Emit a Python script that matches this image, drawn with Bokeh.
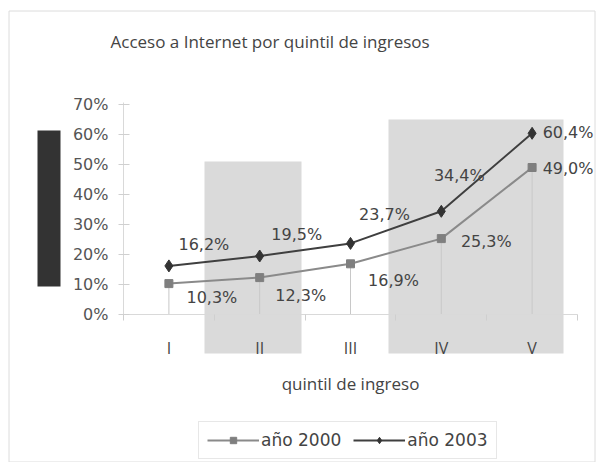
from bokeh.plotting import figure
from bokeh.core.properties import value
from bokeh.models import (Range1d, FixedTicker, PrintfTickFormatter,
                          ColumnDataSource, Legend, LegendItem, LabelSet, Label)
from bokeh.embed import file_html
from bokeh.resources import INLINE

# ---- data ----
categories = ["I", "II", "III", "IV", "V"]
y2000 = [10.3, 12.3, 16.9, 25.3, 49.0]
y2003 = [16.2, 19.5, 23.7, 34.4, 60.4]
y_ticks = [0, 10, 20, 30, 40, 50, 60, 70]
series_names = ["año 2000", "año 2003"]
title_text = "Acceso a Internet por quintil de ingresos"
x_title = "quintil de ingreso"

# ---- label offsets (style, screen px; y positive = up) ----
dx2000 = [43, 41, 43, 45, 36]
dy2000 = [-14, -18, -17, -3, -1]
dx2003 = [35, 37, 34, 18, 36]
dy2003 = [21, 22, 29, 36, 1]

FONT = "Open Sans"
NUMFONT = "DejaVu Sans"

# ---- layout (pixels in the picture) ----
W, H = 596, 462
PLOT_L, PLOT_R = 123, 577      # x of category range 0..5
ZERO_Y = 314                    # y of 0 %
PX_PER_PCT = 3.0
unit = (PLOT_R - PLOT_L) / len(categories)

xs = [i + 0.5 for i in range(len(categories))]

def fmt(v):
    return ("%.1f%%" % v).replace(".", ",")

def px_x(px):
    return (px - PLOT_L) / unit

def px_y(py):
    return (ZERO_Y - py) / PX_PER_PCT

src2000 = ColumnDataSource(dict(x=xs, y=y2000, zero=[0] * len(xs),
                                lab=[fmt(v) for v in y2000], dx=dx2000, dy=dy2000))
src2003 = ColumnDataSource(dict(x=xs, y=y2003,
                                lab=[fmt(v) for v in y2003], dx=dx2003, dy=dy2003))

p = figure(width=W, height=H,
           x_range=Range1d(px_x(0), px_x(W)), y_range=Range1d(px_y(H), px_y(0)),
           output_backend="svg", toolbar_location=None,
           min_border_left=0, min_border_right=0, min_border_top=0,
           min_border_bottom=0)
p.title.visible = False
p.outline_line_color = None
p.xgrid.grid_line_color = None
p.ygrid.grid_line_color = None

# chart-area border
p.quad(left=[px_x(8.5)], right=[px_x(594.5)], top=[px_y(10.5)], bottom=[px_y(461.5)],
       fill_color=None, line_color="#dcdcdc", line_width=1)

# shaded bands and dark box (decoration, pixel placed)
p.quad(left=[px_x(204), px_x(388)], right=[px_x(301), px_x(563)],
       top=[px_y(161), px_y(119)], bottom=[px_y(353), px_y(353)],
       fill_color="#dadada", line_color=None)
p.quad(left=[px_x(37)], right=[px_x(60)], top=[px_y(130)], bottom=[px_y(286)],
       fill_color="#333333", line_color=None)

# drop lines
p.segment(x0="x", y0="zero", x1="x", y1="y", source=src2000,
          line_color="#c8c8c8", line_width=1)

l0 = p.line("x", "y", source=src2000, line_color="#8a8a8a", line_width=2)
m0 = p.scatter("x", "y", source=src2000, marker="square", size=8,
               fill_color="#7f7f7f", line_color="#7f7f7f")
l1 = p.line("x", "y", source=src2003, line_color="#3f3f3f", line_width=2)
m1 = p.scatter("x", "y", source=src2003, marker="diamond", size=12,
               fill_color="#333333", line_color="#333333")

for src in (src2000, src2003):
    p.add_layout(LabelSet(x="x", y="y", text="lab", source=src,
                          x_offset="dx", y_offset="dy",
                          text_align="center", text_baseline="middle",
                          text_font=value(NUMFONT), text_font_size=value("16px"),
                          text_color="#444444"))

# title
p.add_layout(Label(x=px_x(110), y=px_y(41), text=title_text,
                   text_align="left", text_baseline="middle",
                   text_font=FONT, text_font_size="17px", text_color="#444444"))

# axes (placed inside the frame)
xa = p.xaxis[0]
xa.fixed_location = 0
xa.bounds = (0, len(categories))
xa.ticker = FixedTicker(ticks=xs, minor_ticks=list(range(len(categories) + 1)))
xa.major_label_overrides = {x: c for x, c in zip(xs, categories)}
xa.major_tick_out = 0
xa.major_tick_in = 0
xa.minor_tick_out = 6
xa.minor_tick_in = 0
xa.minor_tick_line_color = "#cfcfcf"
xa.axis_line_color = "#d9d9d9"
xa.major_label_standoff = 16
xa.major_label_text_font = FONT
xa.major_label_text_font_size = "16px"
xa.major_label_text_color = "#444444"
xa.axis_label = x_title
xa.axis_label_text_font = FONT
xa.axis_label_text_font_size = "17px"
xa.axis_label_text_font_style = "normal"
xa.axis_label_text_color = "#444444"
xa.axis_label_standoff = 10

ya = p.yaxis[0]
ya.fixed_location = 0
ya.bounds = (0, 70.7)
ya.ticker = FixedTicker(ticks=y_ticks)
ya.formatter = PrintfTickFormatter(format="%d%%")
ya.major_tick_in = 6
ya.major_tick_out = 5
ya.major_tick_line_color = "#d0d0d0"
ya.minor_tick_line_color = None
ya.axis_line_color = "#d9d9d9"
ya.major_label_standoff = 10
ya.major_label_text_font = NUMFONT
ya.major_label_text_font_size = "16px"
ya.major_label_text_color = "#555555"

legend = Legend(items=[LegendItem(label=series_names[0], renderers=[l0, m0]),
                       LegendItem(label=series_names[1], renderers=[l1, m1])],
                orientation="horizontal", location=(198, 3),
                glyph_width=52, glyph_height=16, label_standoff=2, spacing=12,
                padding=8, margin=0, border_line_color="#d0d0d0",
                label_text_font=NUMFONT, label_text_font_size="17px",
                label_text_color="#444444")
p.add_layout(legend, "center")

open("out.html", "w").write(file_html(p, INLINE))
